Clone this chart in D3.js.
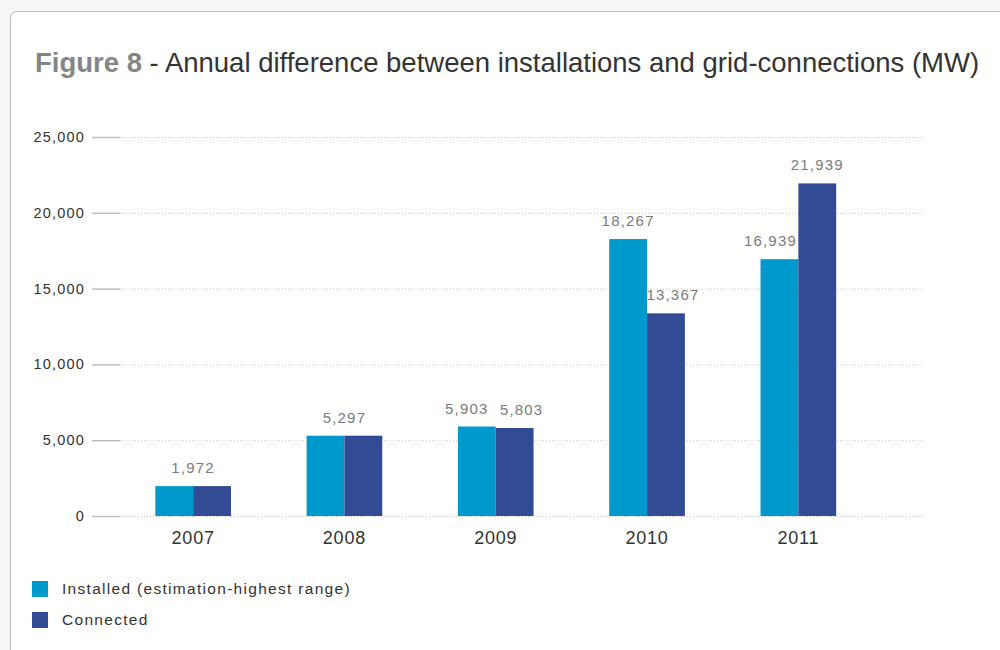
<!DOCTYPE html>
<meta charset="utf-8">
<style>
body { margin: 0; background: #f6f6f6; font-family: "Liberation Sans", Arial, Helvetica, sans-serif; }
svg { display: block; }
</style>
<body>
<script src="https://cdn.jsdelivr.net/npm/d3@7"></script>
<script>
var years = ["2007", "2008", "2009", "2010", "2011"];
var series = ["Installed (estimation-highest range)", "Connected"];
var installed = [1972, 5297, 5903, 18267, 16939];
var connected = [1972, 5297, 5803, 13367, 21939];
var yTicks = [0, 5000, 10000, 15000, 20000, 25000];
var colors = ["#0099cc", "#334a94"];

var width = 1000, height = 650;
var svg = d3.select("body").append("svg")
    .attr("width", width)
    .attr("height", height);

// card
svg.append("rect")
    .attr("x", 10.5).attr("y", 11.5)
    .attr("width", 1010).attr("height", 660)
    .attr("rx", 6)
    .attr("fill", "#fff")
    .attr("stroke", "#bdbdbd");

// title
var title = svg.append("text")
    .attr("x", 35).attr("y", 72)
    .style("font-size", "27.5px");
title.append("tspan").text("Figure 8").attr("fill", "#858585").style("font-weight", "bold");
title.append("tspan").text(" - Annual difference between installations and grid-connections (MW)").attr("fill", "#333");

var x = d3.scaleBand().domain(years).range([117.5, 874]).paddingInner(0.5).paddingOuter(0.25);
var x1 = d3.scaleBand().domain([0, 1]).range([0, x.bandwidth()]);
var y = d3.scaleLinear().domain([0, 25000]).range([516, 137]);
var fmt = d3.format(",");

// grid
var grid = svg.append("g");
grid.selectAll(".tk").data(yTicks).enter().append("line")
    .attr("x1", 92).attr("x2", 120)
    .attr("y1", function(d) { return y(d) + 0.5; })
    .attr("y2", function(d) { return y(d) + 0.5; })
    .attr("stroke", "#bdbdbd").attr("stroke-width", 1.5);
grid.selectAll(".gl").data(yTicks).enter().append("line")
    .attr("x1", 120).attr("x2", 924)
    .attr("y1", function(d) { return y(d) + 0.5; })
    .attr("y2", function(d) { return y(d) + 0.5; })
    .attr("stroke", "#c4c4c4").attr("stroke-dasharray", "1,2");
grid.selectAll(".yl").data(yTicks).enter().append("text")
    .attr("x", 85)
    .attr("y", function(d) { return y(d) + 5; })
    .attr("text-anchor", "end")
    .attr("fill", "#333")
    .style("font-size", "14.5px")
    .style("letter-spacing", "1.2px")
    .text(function(d) { return fmt(d); });

// bars
var rows = years.map(function(yr, i) { return {year: yr, vals: [installed[i], connected[i]]}; });
var groups = svg.selectAll(".grp").data(rows).enter().append("g")
    .attr("transform", function(d) { return "translate(" + x(d.year) + ",0)"; });
groups.selectAll("rect").data(function(d) { return d.vals; }).enter().append("rect")
    .attr("x", function(d, i) { return x1(i); })
    .attr("y", function(d) { return y(d); })
    .attr("width", x1.bandwidth())
    .attr("height", function(d) { return y(0) - y(d); })
    .attr("fill", function(d, i) { return colors[i]; });

// value labels (equal values get one centred label; nudges keep others apart)
var nudge = {"2009": [-10, 7], "2010": [0, 7], "2011": [-9, 0]};
groups.each(function(d) {
  var g = d3.select(this);
  var labs = d.vals[0] === d.vals[1]
    ? [{v: d.vals[0], cx: x.bandwidth() / 2}]
    : d.vals.map(function(v, i) { return {v: v, cx: x1(i) + x1.bandwidth() / 2 + (nudge[d.year] ? nudge[d.year][i] : 0)}; });
  g.selectAll(".vl").data(labs).enter().append("text")
      .attr("x", function(l) { return l.cx; })
      .attr("y", function(l) { return y(l.v) - 13; })
      .attr("text-anchor", "middle")
      .attr("fill", "#7a7a7a")
      .style("font-size", "15px")
      .style("letter-spacing", "1.2px")
      .text(function(l) { return fmt(l.v); });
});

// x labels
svg.selectAll(".xl").data(years).enter().append("text")
    .attr("x", function(d) { return x(d) + x.bandwidth() / 2; })
    .attr("y", 544)
    .attr("text-anchor", "middle")
    .attr("fill", "#333")
    .style("font-size", "18px")
    .style("letter-spacing", "0.8px")
    .text(function(d) { return d; });

// legend
var leg = svg.selectAll(".lg").data(series).enter().append("g")
    .attr("transform", function(d, i) { return "translate(32," + (581 + i * 31) + ")"; });
leg.append("rect").attr("width", 16).attr("height", 16)
    .attr("fill", function(d, i) { return colors[i]; });
leg.append("text")
    .attr("x", 30).attr("y", 13)
    .attr("fill", "#333")
    .style("font-size", "15.5px")
    .style("letter-spacing", "1.3px")
    .text(function(d) { return d; });
</script>
</body>
